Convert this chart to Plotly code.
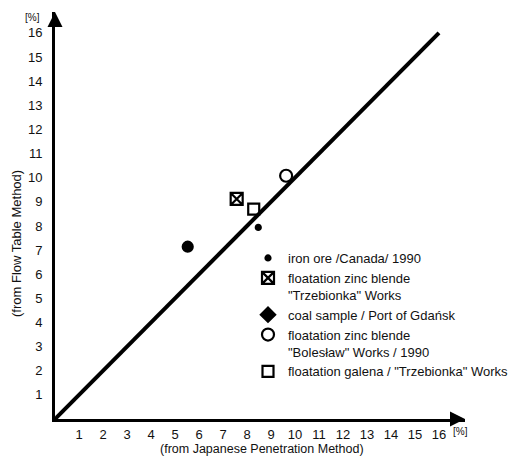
import plotly.graph_objects as go

# ---- data ----
series_names = [
    'iron ore /Canada/ 1990',
    'floatation zinc blende<br>"Trzebionka" Works',
    'coal sample / Port of Gdańsk',
    'floatation zinc blende<br>"Bolesław" Works / 1990',
    'floatation galena / "Trzebionka" Works',
]
x_values = [8.47, 7.57, 5.53, 9.63, 8.28]   # from Japanese Penetration Method [%]
y_values = [7.94, 9.12, 7.14, 10.08, 8.70]  # from Flow Table Method [%]
tick_values = list(range(1, 17))
tick_labels = [str(v) for v in tick_values]
line_x = [0, 16]
line_y = [0, 16]

W, H = 515, 456
ML, MR, MT, MB = 55, 50, 12, 37
PW, PH = W - ML - MR, H - MT - MB
px_x = 24.0
px_y = 24.13
xmax = PW / px_x
ymax = PH / px_y
FONT = 'Liberation Sans, Arial, sans-serif'

fig = go.Figure()

# reference line y = x
fig.add_trace(go.Scatter(x=line_x, y=line_y, mode='lines',
                         line=dict(color='black', width=4), showlegend=False,
                         hoverinfo='skip'))

plot_symbols = ['circle', 'square-x-open', 'circle', 'circle-open', 'square-open']
plot_sizes = [5, 12, 10, 12, 11]
legend_symbols = ['circle', 'square-x-open', 'diamond', 'circle-open', 'square-open']
legend_sizes = [5, 12, 11, 12, 11]

for i, name in enumerate(series_names):
    fig.add_trace(go.Scatter(
        x=[x_values[i]], y=[y_values[i]], mode='markers',
        marker=dict(symbol=plot_symbols[i], size=plot_sizes[i], color='black',
                    line=dict(color='black', width=2.2)),
        showlegend=False, name=name))
    fig.add_trace(go.Scatter(
        x=[None], y=[None], mode='markers', name=name,
        legendgroup='g%d' % i,
        marker=dict(symbol=legend_symbols[i], size=legend_sizes[i], color='black',
                    line=dict(color='black', width=2.2)),
        showlegend=True))

axis_common = dict(showgrid=False, zeroline=False, showline=True,
                   linecolor='black', linewidth=3, ticks='', automargin=False,
                   tickvals=tick_values, ticktext=tick_labels,
                   tickfont=dict(family=FONT, size=13, color='#111'))

fig.update_layout(
    width=W, height=H,
    margin=dict(l=ML, r=MR, t=MT, b=MB, pad=0, autoexpand=False),
    paper_bgcolor='white', plot_bgcolor='white',
    font=dict(family=FONT, size=13, color='#111'),
    xaxis=dict(range=[0, xmax], ticklabelstandoff=1, **axis_common),
    yaxis=dict(range=[0, ymax], ticklabelstandoff=7, **axis_common),
    showlegend=True,
    legend=dict(x=(248 - ML) / PW, y=(H - MB - 243) / PH,
                xanchor='left', yanchor='top', bgcolor='rgba(0,0,0,0)',
                font=dict(family=FONT, size=13, color='#111'),
                valign='top', tracegroupgap=0, itemsizing='trace'),
)


def px(xp, yp):
    """pixel position (from top-left of the page) -> paper fraction"""
    return (xp - ML) / PW, (H - MB - yp) / PH


annotations = [
    dict(x=xmax, y=0, xref='x', yref='y', ax=-12, ay=0, text='', showarrow=True,
         arrowhead=2, arrowsize=1.0, arrowwidth=3, arrowcolor='black'),
    dict(x=0, y=ymax, xref='x', yref='y', ax=0, ay=12, text='', showarrow=True,
         arrowhead=2, arrowsize=1.0, arrowwidth=3, arrowcolor='black'),
]
paper_texts = [
    (460, 431, '[%]', 10, 0),
    (32, 17, '[%]', 10, 0),
    (262, 449, '(from Japanese Penetration Method)', 12.5, 0),
    (16, 244, '(from Flow Table Method)', 13, -90),
]
for xp, yp, txt, size, ang in paper_texts:
    fx, fy = px(xp, yp)
    annotations.append(dict(x=fx, y=fy, xref='paper', yref='paper', text=txt,
                            showarrow=False, textangle=ang, xanchor='center',
                            yanchor='middle', font=dict(family=FONT, size=size)))
fig.update_layout(annotations=annotations)

fig.write_html('out.html',
               config={'displayModeBar': False},
               post_script="document.body.style.margin='0';"
                           "document.body.style.overflow='hidden';")
